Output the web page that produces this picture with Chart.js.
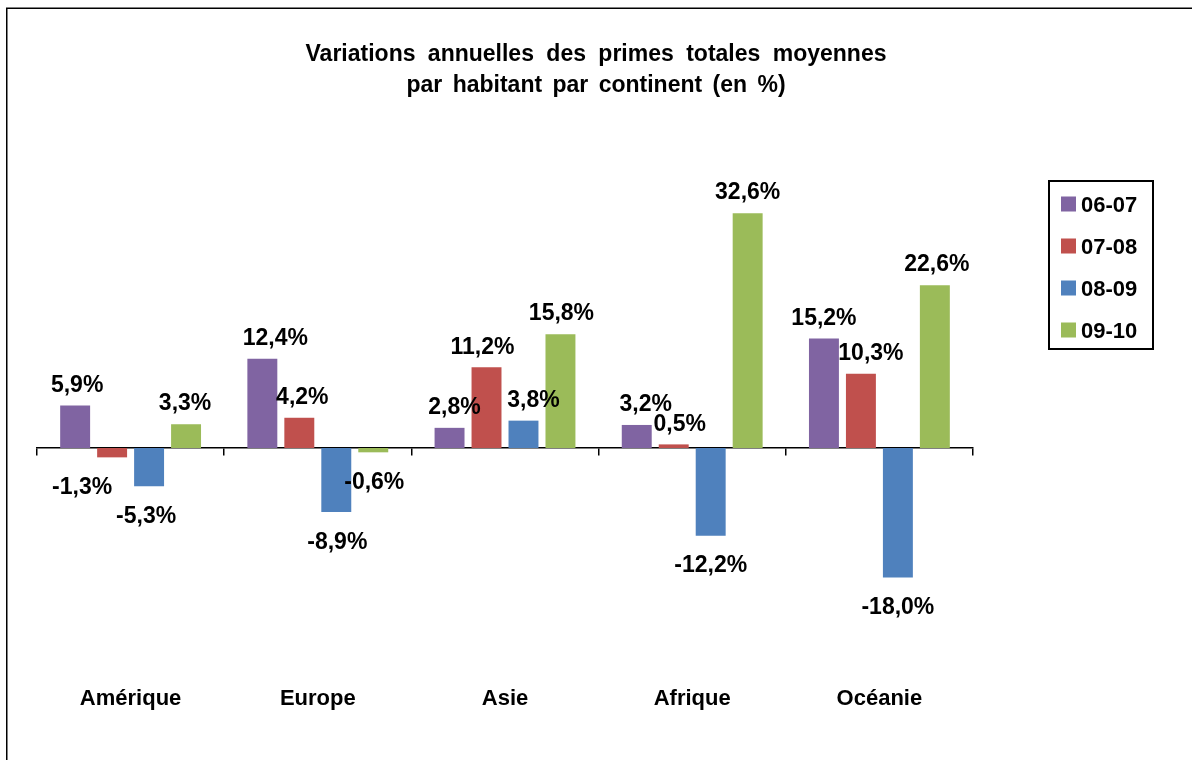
<!DOCTYPE html>
<html><head><meta charset="utf-8">
<script src="https://cdn.jsdelivr.net/npm/chart.js@4"></script>
<style>html,body{margin:0;padding:0;background:#fff;} canvas{display:block;}</style>
</head><body>
<canvas id="c" width="1192" height="760"></canvas>
<script>
const categories = ['Amérique', 'Europe', 'Asie', 'Afrique', 'Océanie'];
const seriesNames = ['06-07', '07-08', '08-09', '09-10'];
const v0607 = [5.9, 12.4, 2.8, 3.2, 15.2];
const v0708 = [-1.3, 4.2, 11.2, 0.5, 10.3];
const v0809 = [-5.3, -8.9, 3.8, -12.2, -18.0];
const v0910 = [3.3, -0.6, 15.8, 32.6, 22.6];
const titleLines = ['Variations annuelles des primes totales moyennes', 'par habitant par continent (en %)'];

// styles (kept apart from data)
const colors = ['#8064A2', '#C0504D', '#4F81BD', '#9BBB59'];
const labelShiftX = [[2, -30, -3, -1], [13, 3, 1, 1], [5, -4, 10, 1], [9, 6, 0, 0], [0, 10, 0, 2]];
const FONT = '"Liberation Sans", Arial, Helvetica, sans-serif';

const fmt = v => v.toFixed(1).replace('.', ',') + '%';

const decor = {
  id: 'decor',
  beforeDraw(chart) {
    const ctx = chart.ctx;
    ctx.save();
    ctx.fillStyle = '#fff';
    ctx.fillRect(0, 0, chart.width, chart.height);
    ctx.strokeStyle = '#000';
    ctx.lineWidth = 1.5;
    ctx.strokeRect(6.75, 8.25, 1400, 1000);
    ctx.restore();
  },
  afterDatasetsDraw(chart) {
    const ctx = chart.ctx;
    ctx.save();
    ctx.font = 'bold 23px ' + FONT;
    ctx.fillStyle = '#000';
    ctx.textAlign = 'center';
    ctx.textBaseline = 'alphabetic';
    chart.data.datasets.forEach((ds, si) => {
      const meta = chart.getDatasetMeta(si);
      meta.data.forEach((bar, ci) => {
        const v = ds.data[ci];
        const x = bar.x + labelShiftX[ci][si];
        const y = v >= 0 ? bar.y - 13.8 : bar.y + 36.5;
        ctx.fillText(fmt(v), x, y);
      });
    });
    ctx.restore();
  },
  afterDraw(chart) {
    const ctx = chart.ctx;
    ctx.save();
    ctx.fillStyle = '#000';
    ctx.textAlign = 'center';
    ctx.textBaseline = 'alphabetic';
    ctx.font = 'bold 23px ' + FONT;
    try { ctx.wordSpacing = '6px'; } catch (e) {}
    ctx.fillText(titleLines[0], 596, 61);
    try { ctx.wordSpacing = '4px'; } catch (e) {}
    ctx.fillText(titleLines[1], 596, 92);
    try { ctx.wordSpacing = '0px'; } catch (e) {}
    // legend
    ctx.strokeStyle = '#000';
    ctx.lineWidth = 2;
    ctx.strokeRect(1049, 181, 104, 168);
    ctx.font = 'bold 22px ' + FONT;
    ctx.textAlign = 'left';
    chart.data.datasets.forEach((ds, i) => {
      const cy = 204 + 42 * i;
      ctx.fillStyle = ds.backgroundColor;
      ctx.fillRect(1061, cy - 7.5, 15, 15);
      ctx.fillStyle = '#000';
      ctx.fillText(ds.label, 1081, cy + 7.8);
    });
    ctx.restore();
  }
};

const seriesValues = [v0607, v0708, v0809, v0910];

new Chart(document.getElementById('c'), {
  type: 'bar',
  data: {
    labels: categories,
    datasets: seriesNames.map((name, i) => ({
      label: name,
      data: seriesValues[i],
      backgroundColor: colors[i],
      borderWidth: 0,
      barPercentage: 0.81,
      categoryPercentage: 0.79
    }))
  },
  options: {
    responsive: false,
    animation: false,
    devicePixelRatio: 1,
    layout: { padding: { left: 37, right: 219, top: 160, bottom: 25.6 } },
    plugins: {
      legend: { display: false },
      title: { display: false },
      tooltip: { enabled: false }
    },
    scales: {
      y: { display: false, min: -30, max: 40 },
      x: {
        position: 'bottom',
        offset: true,
        grid: { display: false, drawTicks: false },
        border: { display: false },
        ticks: { color: '#000', padding: 22, font: { family: FONT, size: 22, weight: 'bold' }, maxRotation: 0 }
      },
      x2: {
        type: 'category',
        labels: categories,
        position: { y: 0 },
        offset: true,
        grid: { display: true, offset: true, drawOnChartArea: false, drawTicks: true, tickLength: 7, color: '#000', lineWidth: 1.5 },
        border: { display: true, color: '#000', width: 1.5 },
        ticks: { display: false }
      }
    }
  },
  plugins: [decor]
});
</script>
</body></html>
